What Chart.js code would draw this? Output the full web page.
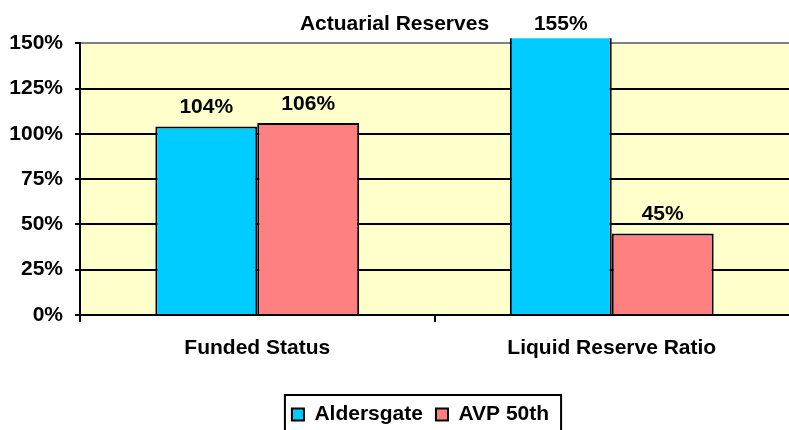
<!DOCTYPE html>
<html>
<head>
<meta charset="utf-8">
<script src="https://cdn.jsdelivr.net/npm/chart.js@4"></script>
<style>
  html, body { margin: 0; padding: 0; overflow: hidden; background: #fff; }
  #wrap { width: 789px; height: 435px; position: relative; }
</style>
</head>
<body>
<div id="wrap"><canvas id="grafico"></canvas></div>
<script>
// dados do gráfico
const categorias = ['Funded Status', 'Liquid Reserve Ratio'];
const series = ['Aldersgate', 'AVP 50th'];
const aldersgate = [104, 155];
const avp50th = [106, 45];
const titulo = 'Actuarial Reserves';

// cores
const azul = '#00CCFF';
const rosa = '#FF8080';
const fundo = '#FFFFCC';
const fonte = "'Liberation Sans', Arial, sans-serif";
const tamanho = 21;

Chart.defaults.font.family = fonte;
Chart.defaults.font.size = tamanho;
Chart.defaults.font.weight = 'bold';
Chart.defaults.color = '#000';

// fundo amarelo da área do gráfico
const fundoPlugin = {
    id: 'fundo',
    beforeDraw(chart) {
        const a = chart.chartArea;
        const ctx = chart.ctx;
        ctx.save();
        ctx.fillStyle = fundo;
        ctx.fillRect(a.left, a.top, a.right - a.left, a.bottom - a.top);
        ctx.restore();
    }
};

// rótulos com os valores acima das barras
const rotulosPlugin = {
    id: 'rotulos',
    afterDatasetsDraw(chart) {
        const ctx = chart.ctx;
        const topo = chart.chartArea.top;
        ctx.save();
        ctx.font = 'bold ' + tamanho + 'px ' + fonte;
        ctx.fillStyle = '#000';
        ctx.textAlign = 'center';
        ctx.textBaseline = 'middle';
        chart.data.datasets.forEach((ds, i) => {
            chart.getDatasetMeta(i).data.forEach((bar, j) => {
                const y = Math.max(bar.y, topo) - 19;
                ctx.fillText(ds.data[j] + '%', bar.x, y);
            });
        });
        ctx.restore();
    }
};

// legenda um pouco deslocada para a esquerda + moldura
const molduraPlugin = {
    id: 'moldura',
    afterLayout(chart) {
        chart.legend.left -= 14;
        chart.legend.right -= 14;
    },
    afterDraw(chart) {
        const hb = chart.legend.legendHitBoxes;
        if (!hb || !hb.length) return;
        const esq = Math.min(...hb.map(h => h.left)) - 7;
        const dir = Math.max(...hb.map(h => h.left + h.width)) + 12;
        const topo = hb[0].top - 9;
        const ctx = chart.ctx;
        ctx.save();
        ctx.strokeStyle = '#000';
        ctx.lineWidth = 2;
        ctx.strokeRect(esq, topo, dir - esq, 60);
        ctx.restore();
    }
};

const ctx = document.getElementById('grafico').getContext('2d');
const grafico = new Chart(ctx, {
    type: 'bar',
    data: {
        labels: categorias,
        datasets: [{
            label: series[0],
            data: aldersgate,
            backgroundColor: azul,
            borderColor: '#000',
            borderWidth: 2,
            clip: { left: 0, top: 5, right: 0, bottom: 0 }
        }, {
            label: series[1],
            data: avp50th,
            backgroundColor: rosa,
            borderColor: '#000',
            borderWidth: 2,
            clip: { left: 0, top: 5, right: 0, bottom: 0 }
        }]
    },
    options: {
        responsive: true,
        maintainAspectRatio: false,
        animation: false,
        categoryPercentage: 0.575,
        barPercentage: 1,
        layout: { padding: 0 },
        scales: {
            x: {
                grid: {
                    display: true,
                    drawOnChartArea: false,
                    drawTicks: true,
                    tickLength: 7,
                    // sem marca na ponta direita
                    color: (c) => c.tick ? '#000' : 'rgba(0,0,0,0)',
                    tickColor: (c) => c.tick ? '#000' : 'rgba(0,0,0,0)',
                    lineWidth: 2,
                    offset: true
                },
                border: { display: true, color: '#000', width: 2 },
                ticks: { padding: 14 },
                afterFit(scale) { scale.height = 76; }
            },
            y: {
                min: 0,
                max: 150,
                grid: {
                    color: (c) => c.tick && c.tick.value === 150 ? '#808080' : '#000',
                    tickColor: '#000',
                    lineWidth: 2,
                    tickLength: 5
                },
                border: { display: true, color: '#000', width: 2 },
                ticks: {
                    stepSize: 25,
                    padding: 12,
                    callback: (v) => v + '%'
                },
                afterFit(scale) { scale.width = 80; }
            }
        },
        plugins: {
            title: {
                display: true,
                text: titulo,
                padding: { top: 12, bottom: 6 }
            },
            legend: {
                position: 'bottom',
                fullSize: false,
                labels: {
                    boxWidth: 12,
                    boxHeight: 12,
                    padding: 13
                }
            },
            tooltip: { enabled: false }
        }
    },
    plugins: [fundoPlugin, rotulosPlugin, molduraPlugin]
});
</script>
</body>
</html>
